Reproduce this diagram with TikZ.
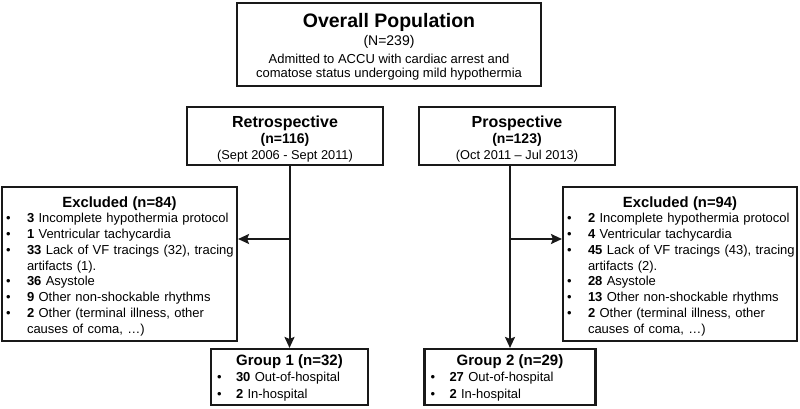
\documentclass[tikz,border=0pt]{standalone}
\usepackage{fontspec}
\setmainfont{Liberation Sans}
\usetikzlibrary{arrows.meta}
\newcommand\bitem[2][21pt]{\mbox{\makebox[#1][l]{•}#2}}
\newcommand\bcont[2][21pt]{\mbox{\makebox[#1][l]{}#2}}
\begin{document}
\begin{tikzpicture}[x=1pt,y=-1pt,
  box/.style={draw=black!90, line width=2.1pt, inner ysep=0pt},
  exbox/.style={box, inner xsep=4pt, text width=#1, align=left,
    minimum height=154pt, font=\fontsize{13}{15.75}\selectfont},
  grbox/.style={box, inner xsep=6pt, text width=#1, align=left,
    minimum height=56pt, font=\fontsize{13}{16.5}\selectfont},
  cobox/.style={box, inner xsep=0pt, align=center, minimum width=196pt,
    minimum height=58pt, font=\fontsize{12.8}{16}\selectfont},
  conn/.style={line width=2pt, draw=black!90},
  arr/.style={conn, -{Stealth[length=11pt,width=10pt,inset=2pt]}},
  ]
\useasboundingbox (0,0) rectangle (800,409);
\fill[white] (0,0) rectangle (800,409);

\node[box, inner xsep=0pt, align=center, minimum width=304pt, minimum height=83pt,
  font=\fontsize{13}{14.4}\selectfont] (top) at (389,44.5)
  {{\fontsize{19.5}{14.4}\selectfont\bfseries\rule{0pt}{18.7pt}Overall Population}\\[3.3pt]
   {\fontsize{14}{14.4}\selectfont (N=239)}\\[3.9pt]
   Admitted to ACCU with cardiac arrest and\\
   comatose status undergoing mild hypothermia};

\node[cobox] (retro) at (285,136)
  {{\fontsize{16}{16}\selectfont\bfseries\rule{0pt}{16.7pt}Retrospective}\\
   {\fontsize{14}{16}\selectfont\bfseries (n=116)}\\
   (Sept 2006 - Sept 2011)};

\node[cobox] (pros) at (517,136)
  {{\fontsize{16}{16}\selectfont\bfseries\rule{0pt}{16.7pt}Prospective}\\
   {\fontsize{14}{16}\selectfont\bfseries (n=123)}\\
   (Oct 2011 – Jul 2013)};

\node[exbox=227pt] (exL) at (119.5,264)
  {\makebox[\linewidth][c]{\fontsize{14.8}{15.75}\selectfont\bfseries\rule{0pt}{14.8pt}Excluded (n=84)}\\
   \bitem{\textbf{3} Incomplete hypothermia protocol}\\
   \bitem{\textbf{1} Ventricular tachycardia}\\
   \bitem{\textbf{33} Lack of VF tracings (32), tracing}\\
   \bcont{artifacts (1).}\\
   \bitem{\textbf{36} Asystole}\\
   \bitem{\textbf{9} Other non-shockable rhythms}\\
   \bitem{\textbf{2} Other (terminal illness, other}\\
   \bcont{causes of coma, …)}};

\node[exbox=226pt] (exR) at (680,264)
  {\makebox[\linewidth][c]{\fontsize{14.8}{15.75}\selectfont\bfseries\rule{0pt}{14.8pt}Excluded (n=94)}\\
   \bitem{\textbf{2} Incomplete hypothermia protocol}\\
   \bitem{\textbf{4} Ventricular tachycardia}\\
   \bitem{\textbf{45} Lack of VF tracings (43), tracing}\\
   \bcont{artifacts (2).}\\
   \bitem{\textbf{28} Asystole}\\
   \bitem{\textbf{13} Other non-shockable rhythms}\\
   \bitem{\textbf{2} Other (terminal illness, other}\\
   \bcont{causes of coma, …)}};

\node[grbox=145pt] (g1) at (289.5,377)
  {\makebox[\linewidth][c]{\fontsize{15}{16.5}\selectfont\bfseries\rule{0pt}{11.7pt}Group 1 (n=32)}\\
   \bitem[19pt]{\textbf{30} Out-of-hospital}\\
   \bitem[19pt]{\textbf{2} In-hospital}};

\node[grbox=159pt] (g2) at (510,377)
  {\makebox[\linewidth][c]{\fontsize{15}{16.5}\selectfont\bfseries\rule{0pt}{11.7pt}Group 2 (n=29)}\\
   \bitem[19pt]{\textbf{27} Out-of-hospital}\\
   \bitem[19pt]{\textbf{2} In-hospital}};

\draw[arr] (retro.south -| g1.north) -- (g1.north);
\draw[arr] (pros.south -| g2.north) -- (g2.north);
\path (g1.north |- 0,239) coordinate (jL);
\path (g2.north |- 0,239) coordinate (jR);
\draw[arr] (jL) -- (jL -| exL.east);
\draw[arr] (jR) -- (jR -| exR.west);
\end{tikzpicture}
\end{document}
